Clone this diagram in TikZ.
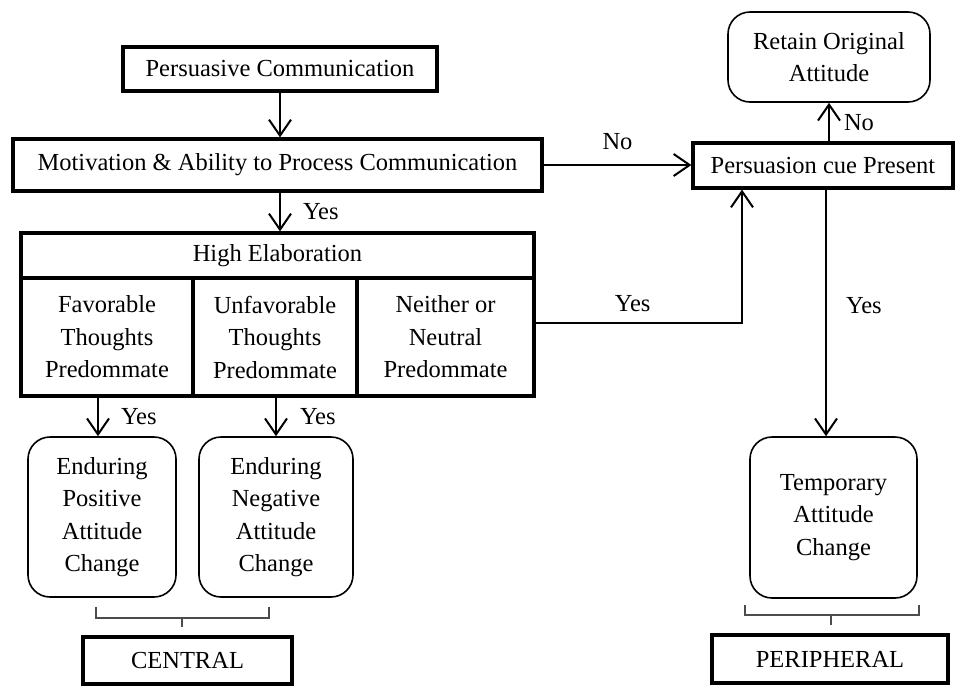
\documentclass[tikz,border=0pt]{standalone}
\usepackage{fontspec}
\setmainfont{Liberation Serif}
\usepackage{tikz}
\usetikzlibrary{arrows.meta}

\begin{document}
\begin{tikzpicture}[x=0.5pt, y=-0.5pt,
		      every node/.style={font=\fontsize{12.25}{16.25}\selectfont, align=center, inner sep=0pt},
		      box/.style={rectangle, draw, line width=1.6pt},
		      endbox/.style={rectangle, draw, line width=0.8pt, rounded corners=11pt},
		      flow/.style={-{Straight Barb[length=8pt,width=11pt]}, line width=1pt},
		      groupline/.style={line width=0.7pt, gray!60!black}]
		      \useasboundingbox (0,0) rectangle (956,686);
		      % central route
		      \node[box, minimum width=157pt, minimum height=22pt] (pc) at (280,69) {Persuasive Communication};
		      \node[box, minimum width=264.5pt, minimum height=26pt] (mot) at (277.5,165) {Motivation \& Ability to Process Communication};
		      \node[box, minimum width=256.5pt, minimum height=22.5pt] (high) at (277.5,255.5) {High Elaboration};
		      \node[box, minimum width=86pt, minimum height=59pt] (fav) at (107,337) {Favorable\\Thoughts\\Predommate};
		      \node[box, minimum width=82pt, minimum height=59pt] (unfav) at (275,337) {Unfavorable\\Thoughts\\Predommate};
		      \node[box, minimum width=88.5pt, minimum height=59pt] (neither) at (445.5,337) {Neither or\\Neutral\\Predommate};
		      \node[endbox, minimum width=74pt, minimum height=80pt] (pos) at (102,517) {Enduring\\Positive\\Attitude\\Change};
		      \node[endbox, minimum width=77pt, minimum height=80pt] (neg) at (276,517) {Enduring\\Negative\\Attitude\\Change};
		      \node[box, minimum width=104.5pt, minimum height=23.5pt] (central) at (187.5,660.5) {CENTRAL};
		      % peripheral route
		      \node[endbox, minimum width=101pt, minimum height=45pt] (retain) at (829,57) {Retain Original\\Attitude};
		      \node[box, minimum width=130pt, minimum height=22.5pt] (cue) at (823,165.5) {Persuasion cue Present};
		      \node[endbox, minimum width=83.5pt, minimum height=80.5pt] (temp) at (833.5,517.5) {Temporary\\Attitude\\Change};
		      \node[box, minimum width=118pt, minimum height=24pt] (peripheral) at (830,659) {PERIPHERAL};
		      \coordinate (turn) at (742,323);

		      \draw[flow] (pc.south) -- (pc.south |- mot.north);
		      \draw[flow] (mot.south -| pc.south) -- (pc.south |- high.north)
			      node[midway, anchor=west, xshift=11pt] {Yes};
		      \draw[flow] (mot.east) -- (mot.east -| cue.west)
			      node[midway, above=7pt] {No};
		      \draw[flow] ([yshift=7pt]neither.east) -- (turn)
			      node[pos=0.47, above=5pt] {Yes} -- (turn |- cue.south);
		      \draw[flow] ([xshift=1.5pt]cue.south) -- ([xshift=1.5pt]cue.south |- temp.north)
			      node[pos=0.47, anchor=west, xshift=9.5pt] {Yes};
		      \draw[flow] (retain.south |- cue.north) -- (retain.south)
			      node[midway, anchor=west, xshift=7pt] {No};
		      \draw[flow] ([xshift=-2pt]pos.north |- fav.south) -- ([xshift=-2pt]pos.north)
			      node[midway, anchor=west, xshift=11pt] {Yes};
		      \draw[flow] (neg.north |- unfav.south) -- (neg.north)
			      node[midway, anchor=west, xshift=11.5pt] {Yes};
		      % group brackets
		      \draw[groupline] (96,607) -- (96,618) -- (269,618) -- (269,607) (182,618) -- (182,627);
		      \draw[groupline] (745,605) -- (745,615) -- (919,615) -- (919,605) (831,615) -- (831,625);
	      \end{tikzpicture}
\end{document}
